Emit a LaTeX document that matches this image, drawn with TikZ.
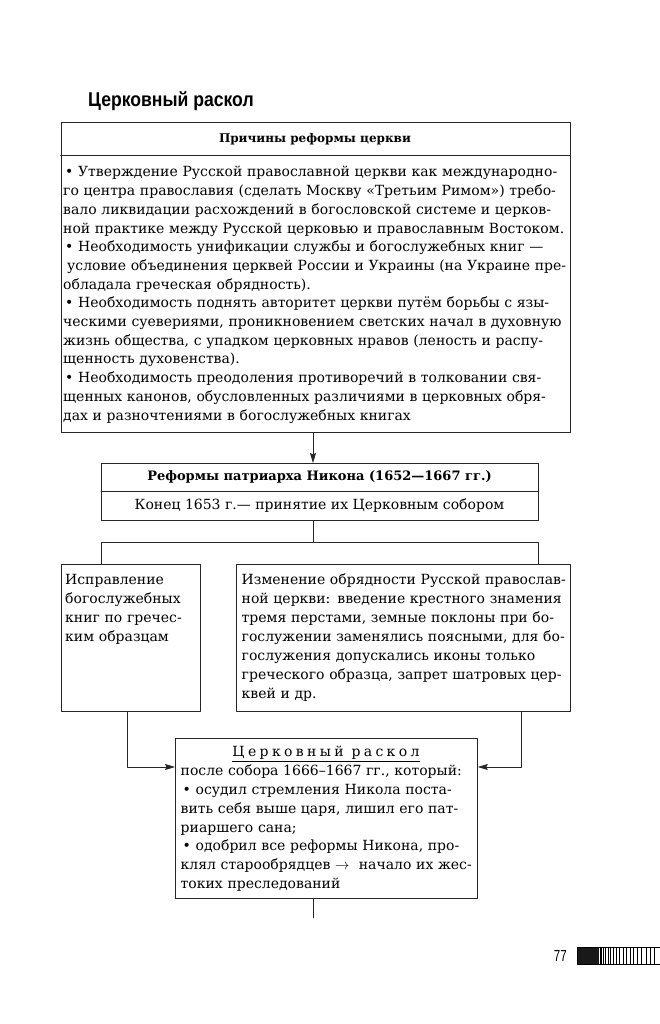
\documentclass[tikz,border=0pt]{standalone}
\usepackage{graphicx}
\usepackage{fontspec}
\setmainfont{DejaVu Serif}
\newfontfamily\titlefont{Liberation Sans}
\usetikzlibrary{arrows.meta}
\newcommand{\jline}[1]{\makebox[\linewidth][s]{#1}}
\newcommand{\bul}{\hspace*{2pt}•}

\begin{document}
\begin{tikzpicture}[x=1pt, y=-1pt, line cap=round, line join=round, >={Stealth[length=10pt,width=6pt,inset=1.5pt]},
	box/.style={draw=black!85, line width=0.8pt, inner sep=0pt, anchor=north west},
	body/.style={inner sep=0pt, anchor=base west, align=left, font=\fontsize{14}{18.7}\selectfont},
	conn/.style={draw=black!85, line width=0.8pt}]
	\useasboundingbox (0,0) rectangle (660,1024);
	
	% TIÊU ĐỀ
	\node[anchor=base west, inner sep=0pt, font=\titlefont\bfseries\fontsize{20}{24}\selectfont] (title) at (88,107) {\scalebox{0.88}[1]{Церковный раскол}};
	
	% KHUNG NGUYÊN NHÂN
	\node[box, minimum width=509, minimum height=310] (prichiny) at (60.5,122) {};
	\draw[conn] (prichiny.north west) ++(0,33.5) coordinate (hdiv) -- (hdiv -| prichiny.east);
	\node[font=\bfseries\fontsize{12}{14}\selectfont] (prichhead) at (315,139) {Причины реформы церкви};
	\node[body, text width=504] (prichtext) at (63,177) {%
		\jline{\bul{} Утверждение Русской православной церкви как международно-}\\
		\jline{го центра православия (сделать Москву «Третьим Римом») требо-}\\
		\jline{вало ликвидации расхождений в богословской системе и церков-}\\
		\jline{ной практике между Русской церковью и православным Востоком.}\\
		\jline{\bul{} Необходимость унификации службы и богослужебных книг —}\\
		\jline{\hspace*{4pt}условие объединения церквей России и Украины (на Украине пре-}\\
		обладала греческая обрядность).\\
		\jline{\bul{} Необходимость поднять авторитет церкви путём борьбы с язы-}\\
		\jline{ческими суевериями, проникновением светских начал в духовную}\\
		\jline{жизнь общества, с упадком церковных нравов (леность и распу-}\\
		щенность духовенства).\\
		\jline{\bul{} Необходимость преодоления противоречий в толковании свя-}\\
		\jline{щенных канонов, обусловленных различиями в церковных обря-}\\
		дах и разночтениями в богослужебных книгах};
	
	% KHUNG CẢI CÁCH
	\node[box, minimum width=437, minimum height=57] (reforma) at (101,463) {};
	\draw[conn] (reforma.north west) ++(0,28.5) coordinate (rdiv) -- (rdiv -| reforma.east);
	\node[font=\bfseries\fontsize{13}{15}\selectfont] (reformhead) at (319.5,477) {Реформы патриарха Никона (1652—1667 гг.)};
	\node[font=\fontsize{14}{16}\selectfont] (sobor) at (319.5,506) {Конец 1653 г.— принятие их Церковным собором};
	
	% HAI KHUNG GIỮA
	\node[box, minimum width=139, minimum height=147] (ispr) at (60.5,564) {};
	\node[body, text width=130, font=\fontsize{14}{18.9}\selectfont] (isprtext) at (65,584.8) {%
		Исправление\\
		богослужебных\\
		книг по гречес-\\
		ким образцам};
	\node[box, minimum width=333.5, minimum height=147] (obr) at (236,564) {};
	\node[body, text width=322, font=\fontsize{14}{18.9}\selectfont] (obrtext) at (241.5,584.8) {%
		\jline{Изменение обрядности Русской православ-}\\
		\jline{ной церкви: введение крестного знамения}\\
		\jline{тремя перстами, земные поклоны при бо-}\\
		\jline{гослужении заменялись поясными, для бо-}\\
		\jline{гослужения допускались иконы только}\\
		\jline{греческого образца, запрет шатровых цер-}\\
		квей и др.};
	
	% KHUNG CHIA RẼ
	\node[box, minimum width=302, minimum height=160] (raskol) at (175,738) {};
	\node[anchor=base, inner sep=0pt, font=\fontsize{14}{16}\selectfont] (raskolhead) at (326,756.6) {\underline{\addfontfeature{LetterSpace=24}Церковный раскол}};
	\node[body, text width=292, font=\fontsize{14}{18.9}\selectfont] (raskoltext) at (180.5,775.3) {%
		после собора 1666–1667 гг., который:\\
		\jline{\bul{} осудил стремления Никола поста-}\\
		\jline{вить себя выше царя, лишил его пат-}\\
		риаршего сана;\\
		\jline{\bul{} одобрил все реформы Никона, про-}\\
		\jline{клял старообрядцев $\rightarrow$\ \ начало их жес-}\\
		токих преследований};
	
	% ĐƯỜNG NỐI
	\coordinate (axis) at (313,0);
	\coordinate (lin) at (127,767);
	\coordinate (rin) at (521,767);
	\draw[conn,->] (prichiny.south -| axis) -- (reforma.north -| axis);
	\draw[conn] (reforma.south -| axis) -- ++(0,21.5) coordinate (fork);
	\draw[conn] (ispr.north -| reforma.west) -- (reforma.west |- fork) -- (reforma.east |- fork) -- (obr.north -| reforma.east);
	\draw[conn,->] (ispr.south -| lin) |- (raskol.west |- lin);
	\draw[conn,->] (obr.south -| rin) |- (raskol.east |- rin);
	\draw[conn] (raskol.south -| axis) -- ++(0,19);
	
	% SỐ TRANG
	\node[anchor=base east, inner sep=0pt, font=\titlefont\fontsize{16}{18}\selectfont] (pagenum) at (567,961.7) {\scalebox{0.72}[1]{77}};
	\fill[black!90] (577,947.5) rectangle (599,964);
	\foreach \i in {1,...,17}
		\draw[line width={1.3-0.05*\i}] ({599+2*\i+0.075*\i*\i},947.5) -- ++(0,16.5);
	\draw[line width=0.6pt] (577,947.5) rectangle (661,964);
\end{tikzpicture}
\end{document}
